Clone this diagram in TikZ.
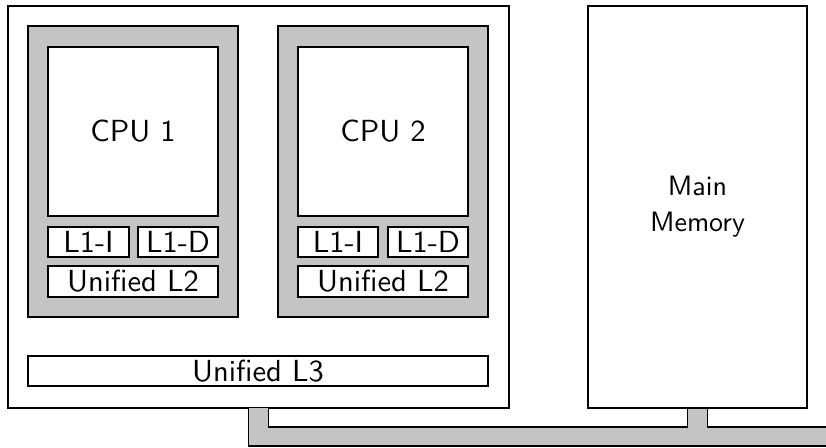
\documentclass[tikz,border=0pt]{standalone}
\usepackage{fontspec}
\usetikzlibrary{calc}
\newfontfamily\lmsten[Extension=.otf]{lmsans10-regular}
\definecolor{busgray}{RGB}{196,196,196}
\tikzset{
  box/.style={draw=black, line width=1.6pt, fill=white, rectangle, inner sep=0pt, outer sep=0pt,
    font=\lmsten\fontsize{30.5}{36}\selectfont, align=center},
  membox/.style={box, font=\lmsten\fontsize{28}{36}\selectfont},
  graybox/.style={box, fill=busgray},
  bus/.style={draw=black, line width=1.6pt, fill=busgray, line join=miter},
}
\begin{document}
\begin{tikzpicture}[x=1pt,y=-1pt]
\useasboundingbox (0,0) rectangle (826,447);
\node[box, minimum width=501pt, minimum height=402pt] (chip) at (258.5,207) {};
\node[membox, minimum width=219pt, minimum height=402pt] (mem) at (697.5,207) {Main\\Memory};
% bus
\draw[bus] ([xshift=-10pt]chip.south) -- ([xshift=-10pt]chip.south |- 0,446) -- (830,446) -- (830,427)
  -- ([xshift=10pt]mem.south |- 0,427) -- ([xshift=10pt]mem.south) -- ([xshift=-10pt]mem.south)
  -- ([xshift=-10pt]mem.south |- 0,427) -- ([xshift=10pt]chip.south |- 0,427) -- ([xshift=10pt]chip.south);
% CPU 1
\node[graybox, minimum width=210pt, minimum height=291pt] (cpuA) at (133,171.5) {};
\node[box, minimum width=170pt, minimum height=169pt] (coreA) at (133,131.5) {CPU 1};
\node[box, minimum width=81pt, minimum height=30pt] (liA) at (88.5,242) {L1-I};
\node[box, minimum width=80pt, minimum height=30pt] (ldA) at (178,242) {L1-D};
\node[box, minimum width=170pt, minimum height=31pt] (ltA) at (133,281.5) {Unified L2};
% CPU 2
\node[graybox, minimum width=210pt, minimum height=291pt] (cpuB) at (383,171.5) {};
\node[box, minimum width=170pt, minimum height=169pt] (coreB) at (383,131.5) {CPU 2};
\node[box, minimum width=80pt, minimum height=30pt] (liB) at (338,242) {L1-I};
\node[box, minimum width=80pt, minimum height=30pt] (ldB) at (428,242) {L1-D};
\node[box, minimum width=170pt, minimum height=31pt] (ltB) at (383,281.5) {Unified L2};
% L3
\node[box, minimum width=460pt, minimum height=30pt] (lthree) at (258,371) {Unified L3};
\end{tikzpicture}
\end{document}
